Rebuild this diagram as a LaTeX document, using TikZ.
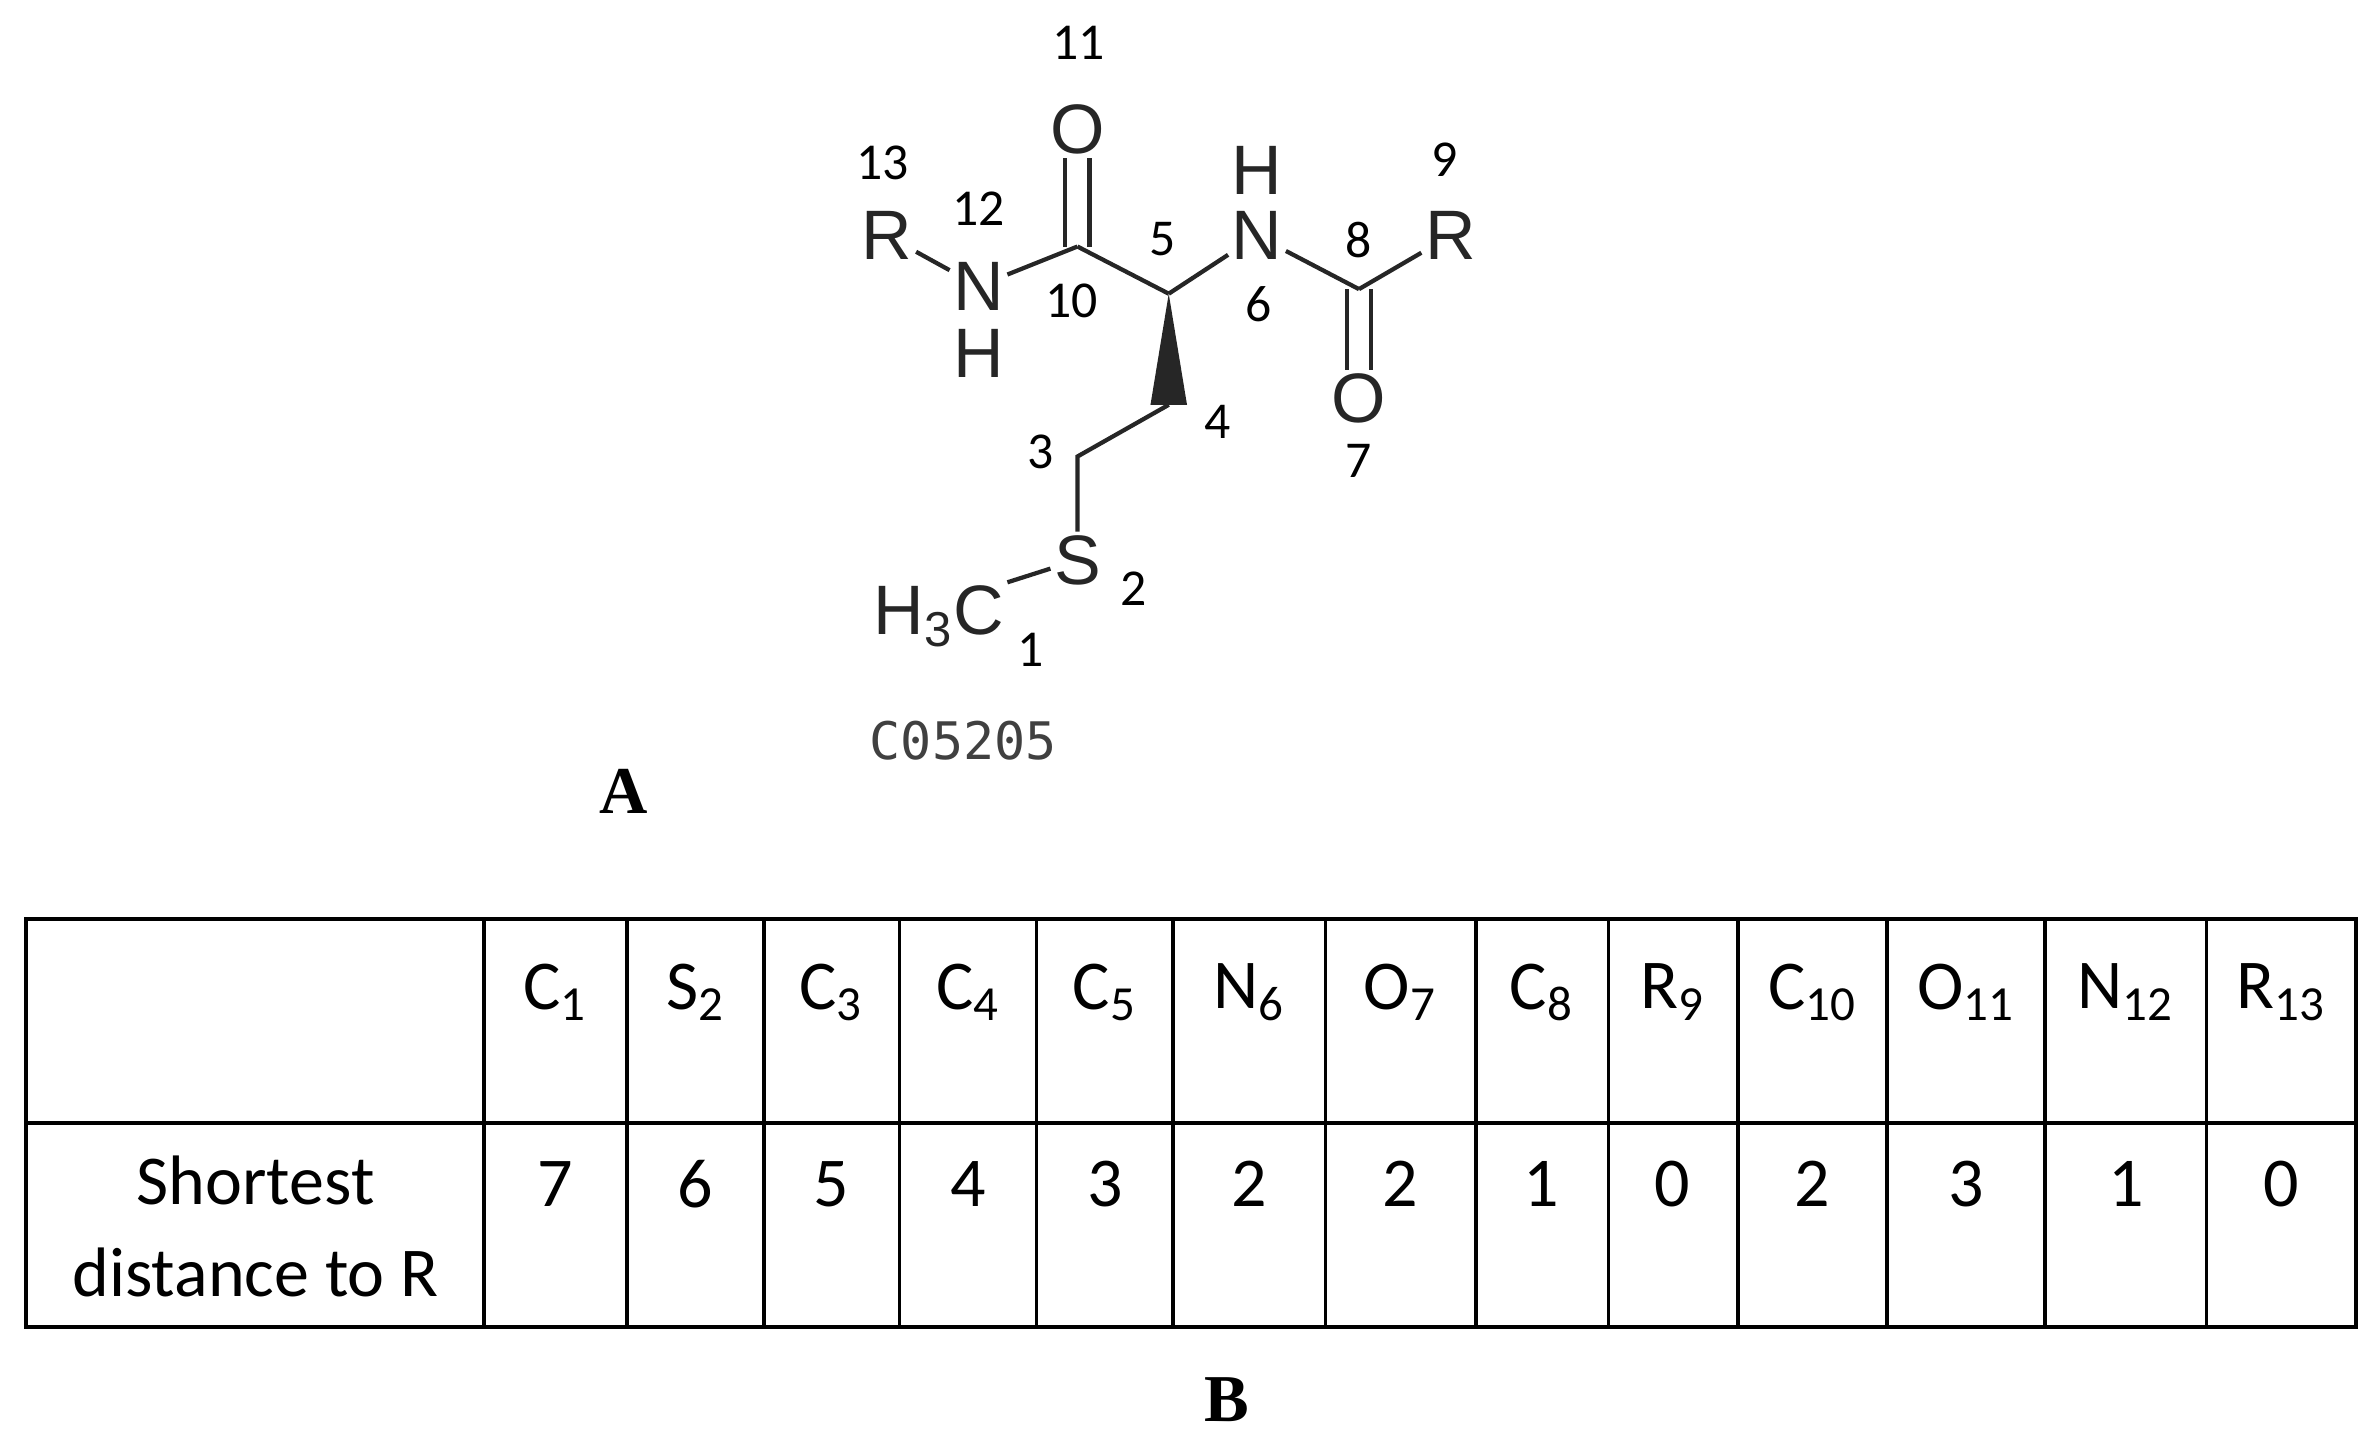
\documentclass[tikz,border=0pt]{standalone}
\usepackage{fontspec}
\setmainfont{Carlito}
\newfontfamily\atomf{Liberation Sans}
\newfontfamily\labf{Liberation Serif}
\newfontfamily\codef{DejaVu Sans Mono}
\begin{document}
\begin{tikzpicture}[x=0.5pt,y=-0.5pt,
  atom/.style={font=\atomf\fontsize{23}{24}\selectfont, text=black!85, inner sep=1pt},
  num/.style={font=\fontsize{17}{19}\selectfont, inner sep=0pt},
  bond/.style={line width=1.4pt, black!85},
  cell/.style={font=\fontsize{23}{28}\selectfont, inner sep=0pt},
  panel/.style={font=\labf\fontsize{22}{24}\selectfont\bfseries}]
\useasboundingbox (0,0) rectangle (1560,952);
% atoms
\node[atom] (O11) at (708,85) {O};
\coordinate (C10) at (708,162);
\node[atom] (N12) at (643,188) {N};
\node[atom] (H12) at (643,232) {H};
\node[atom] (R13) at (583,155) {R};
\coordinate (C5) at (768,193);
\node[atom] (N6) at (826,155) {N};
\node[atom] (H6) at (826,112) {H};
\coordinate (C8) at (893,190);
\node[atom] (R9) at (953,155) {R};
\node[atom] (O7) at (893,262) {O};
\coordinate (C4) at (768,266);
\coordinate (C3) at (708,300);
\node[atom] (S2) at (708,368) {S};
\node[atom,anchor=east] (C1) at (662,405) {H\textsubscript{3}C};
% bonds
\draw[bond] (R13) -- (N12);
\draw[bond] (N12) -- (C10);
\draw[bond] ([xshift=-4]C10) -- ([xshift=-4]O11.south);
\draw[bond] ([xshift=4]C10) -- ([xshift=4]O11.south);
\draw[bond] (C10) -- (C5);
\draw[bond] (C5) -- (N6);
\draw[bond] (N6) -- (C8);
\draw[bond] (C8) -- (R9);
\draw[bond] ([xshift=-4]C8) -- ([xshift=-4]O7.north);
\draw[bond] ([xshift=4]C8) -- ([xshift=4]O7.north);
\fill[black!85] (C5) -- ([xshift=-6]C4) -- ([xshift=6]C4) -- cycle;
\draw[bond] (C4) -- (C3) -- (S2);
\draw[bond] (S2) -- (C1.north east);
% numbers
\node[num] (n11) at (709,28) {11};
\node[num] (n10) at (704,198) {10};
\node[num] (n12) at (643,137) {12};
\node[num] (n13) at (580,107) {13};
\node[num] (n5) at (764,157) {5};
\node[num] (n6) at (827,200) {6};
\node[num] (n8) at (893,158) {8};
\node[num] (n9) at (949,105) {9};
\node[num] (n7) at (893,303) {7};
\node[num] (n4) at (800,277) {4};
\node[num] (n3) at (684,297) {3};
\node[num] (n2) at (745,387) {2};
\node[num] (n1) at (677,427) {1};
\node[font=\codef\fontsize{17}{19}\selectfont, text=black!75] (code) at (633,487) {C05205};
\node[panel] (A) at (410,520) {A};
\node[panel] (B) at (806,920) {B};
% table
\draw[line width=1.2pt] (17,604) rectangle (1548,872);
\draw[line width=1.2pt] (17,738) -- (1548,738);
\foreach \x in {318,412,502,591,681,771,871,970,1057,1142,1240,1344,1450}
  \draw[line width=1.2pt] (\x,604) -- (\x,872);
\foreach \x/\t/\s/\v [count=\i] in {365/C/1/7, 457/S/2/6, 546/C/3/5, 636/C/4/4, 726/C/5/3, 821/N/6/2, 920/O/7/2, 1013/C/8/1, 1099/R/9/0, 1191/C/10/2, 1292/O/11/3, 1397/N/12/1, 1499/R/13/0}{
  \node[cell] (h\i) at (\x,652) {\t\textsubscript{\s}};
  \node[cell] (v\i) at (\x,778) {\v};
}
\node[cell, align=center] (lab) at (168,806) {Shortest\\[2pt]distance to R};
\end{tikzpicture}
\end{document}
